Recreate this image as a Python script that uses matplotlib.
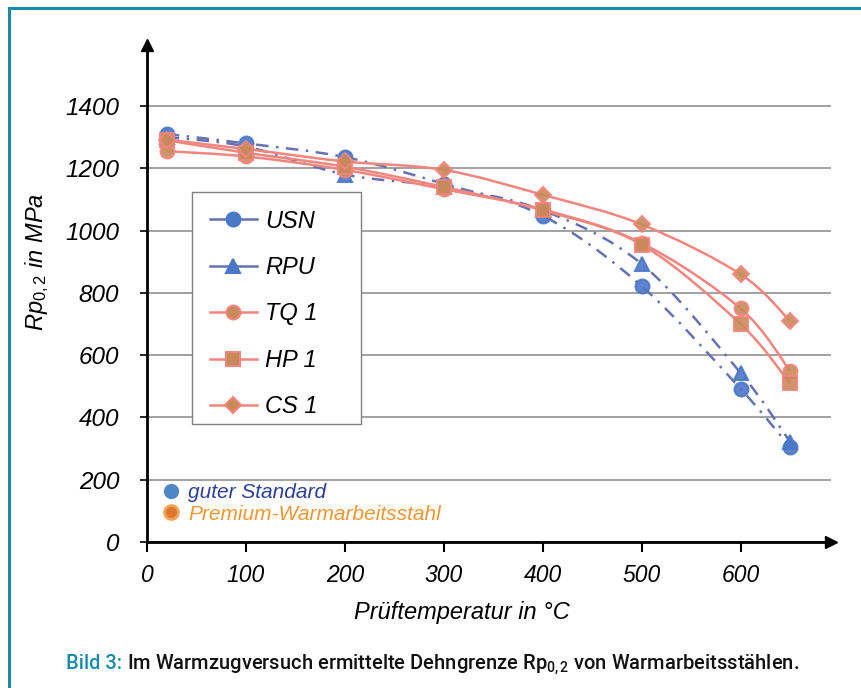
import numpy as np
import matplotlib
matplotlib.use('Agg')
import matplotlib.pyplot as plt
from matplotlib.path import Path
from matplotlib.patches import PathPatch, Rectangle
from matplotlib.lines import Line2D

plt.rcParams['font.family'] = ['Liberation Sans', 'DejaVu Sans']
plt.rcParams['mathtext.fontset'] = 'custom'
plt.rcParams['mathtext.it'] = 'Liberation Sans:italic'
plt.rcParams['mathtext.rm'] = 'Liberation Sans'
plt.rcParams['mathtext.default'] = 'it'

# Daten
temp = [20, 100, 200, 300, 400, 500, 600, 650]
usn = [1310, 1280, 1236, 1150, 1048, 822, 492, 305]
rpu = [1300, 1270, 1180, 1140, 1065, 893, 543, 322]
tq1 = [1255, 1238, 1195, 1133, 1068, 960, 750, 550]
hp1 = [1290, 1250, 1205, 1140, 1065, 955, 700, 510]
cs1 = [1292, 1262, 1222, 1195, 1115, 1020, 860, 710]

names = ['USN', 'RPU', 'TQ 1', 'HP 1', 'CS 1']
series = [usn, rpu, tq1, hp1, cs1]
markers = ['o', '^', 'o', 's', 'D']
gruppe = ['std', 'std', 'prem', 'prem', 'prem']

yticks = [0, 200, 400, 600, 800, 1000, 1200, 1400]
xticks = [0, 100, 200, 300, 400, 500, 600]

blau_linie = '#6571b3'
blau_punkt = '#4a78c8'
rot_linie = '#f3857f'
prem_punkt = '#c98a5a'
teal = '#1a8aaa'


def glatt(x, y):
    # Excel-artige geglaettete Linie (Bezier)
    P = np.column_stack([x, y]).astype(float)
    n = len(P)
    verts = [P[0]]
    codes = [Path.MOVETO]
    for i in range(n - 1):
        p0 = P[i - 1] if i > 0 else P[i]
        p3 = P[i + 2] if i + 2 < n else P[i + 1]
        c1 = P[i] + (P[i + 1] - p0) / 6
        c2 = P[i + 1] - (p3 - P[i]) / 6
        verts += [c1, c2, P[i + 1]]
        codes += [Path.CURVE4] * 3
    return Path(verts, codes)


fig = plt.figure(figsize=(8.62, 6.88), dpi=100)
ax = fig.add_axes([0.1705, 0.2122, 0.793, 0.7224])
ax.set_xlim(0, 691)
ax.set_ylim(0, 1596)

for s in ['top', 'right']:
    ax.spines[s].set_visible(False)
for s in ['left', 'bottom']:
    ax.spines[s].set_linewidth(2.0)
ax.plot(1, 0, '>k', ms=9, transform=ax.transAxes, clip_on=False)
ax.plot(0, 1, '^k', ms=9, transform=ax.transAxes, clip_on=False)

ax.set_yticks(yticks)
ax.set_xticks(xticks)
ax.yaxis.grid(True, color='#9a9a9a', lw=1.3)
ax.set_axisbelow(True)
ax.tick_params(axis='y', length=5, width=1.2, pad=15, labelsize=17.5)
ax.tick_params(axis='x', length=7, width=1.5, pad=9, labelsize=16.5)
for lab in ax.get_xticklabels() + ax.get_yticklabels():
    lab.set_fontstyle('italic')

ax.set_ylabel('Rp$_{0,2}$ in MPa', fontsize=17, fontstyle='italic')
ax.set_xlabel('Prüftemperatur in °C', fontsize=17, fontstyle='italic')
ax.yaxis.set_label_coords(-0.140, 0.563)
ax.xaxis.set_label_coords(0.46, -0.118)

handles = []
for name, ys, m, g in zip(names, series, markers, gruppe):
    if g == 'std':
        lc, fc, ec, ls = blau_linie, blau_punkt, blau_punkt, (0, (5, 3, 1, 3))
    else:
        lc, fc, ec, ls = rot_linie, prem_punkt, rot_linie, '-'
    ax.add_patch(PathPatch(glatt(temp, ys), fill=False, edgecolor=lc, lw=1.8, linestyle=ls, zorder=3))
    ms = 8 if m == 'D' else 10
    ax.plot(temp, ys, linestyle='none', marker=m, ms=ms, mfc=fc, mec=ec, mew=1.5, zorder=4, alpha=0.9)
    handles.append(Line2D([], [], color=lc, lw=1.8, marker=m, ms=ms, mfc=fc, mec=ec, mew=1.5, label=name))

# Legendenrahmen
ax.add_patch(Rectangle((192 / 862, 1 - 424 / 688), 169 / 862, 232 / 688, transform=fig.transFigure,
                       facecolor='white', edgecolor='#808080', lw=1.0, zorder=5, clip_on=False))
leg = ax.legend(handles=handles, loc='upper left', bbox_to_anchor=(0.2227, 0.7209),
                bbox_transform=fig.transFigure, frameon=False,
                prop={'size': 17, 'style': 'italic'}, labelspacing=0.99,
                handlelength=2.0, borderpad=0.75, handletextpad=0.35, borderaxespad=0)
leg.set_zorder(6)
ax.add_artist(leg)

gr_handles = [Line2D([], [], ls='none', marker='o', ms=10, mfc='#4f86c6', mec='#4f86c6'),
              Line2D([], [], ls='none', marker='o', ms=10, mfc='#e0782e', mec='#f2a35a', mew=2)]
leg2 = ax.legend(handles=gr_handles, labels=['guter Standard', 'Premium-Warmarbeitsstahl'],
                 loc='lower left', bbox_to_anchor=(0.005, 0.02), frameon=False,
                 prop={'size': 15, 'style': 'italic'}, labelcolor=['#2b3f97', '#f3962f'],
                 handletextpad=0.2, labelspacing=0.12, handlelength=1.2, borderaxespad=0)

# Rahmen
fig.add_artist(Line2D([0.0105, 0.0105], [0, 0.9885], color=teal, lw=2.2, transform=fig.transFigure))
fig.add_artist(Line2D([0.0105, 1.0], [0.9885, 0.9885], color=teal, lw=2.2, transform=fig.transFigure))

# Bildunterschrift
cap_font = ['Roboto', 'Liberation Sans', 'DejaVu Sans']
t1 = fig.text(0.0766, 0.028, 'Bild 3:', color=teal, fontsize=14.5, family=cap_font, weight='medium')
fig.canvas.draw()
bb = t1.get_window_extent()
x2 = (bb.x1 + 5) / fig.bbox.width
fig.text(x2, 0.028, r'Im Warmzugversuch ermittelte Dehngrenze Rp$\mathregular{_{0,2}}$ von Warmarbeitsstählen.',
         color='#111111', fontsize=14.5, family=cap_font, weight='medium')

fig.savefig('out.png', dpi=100)
